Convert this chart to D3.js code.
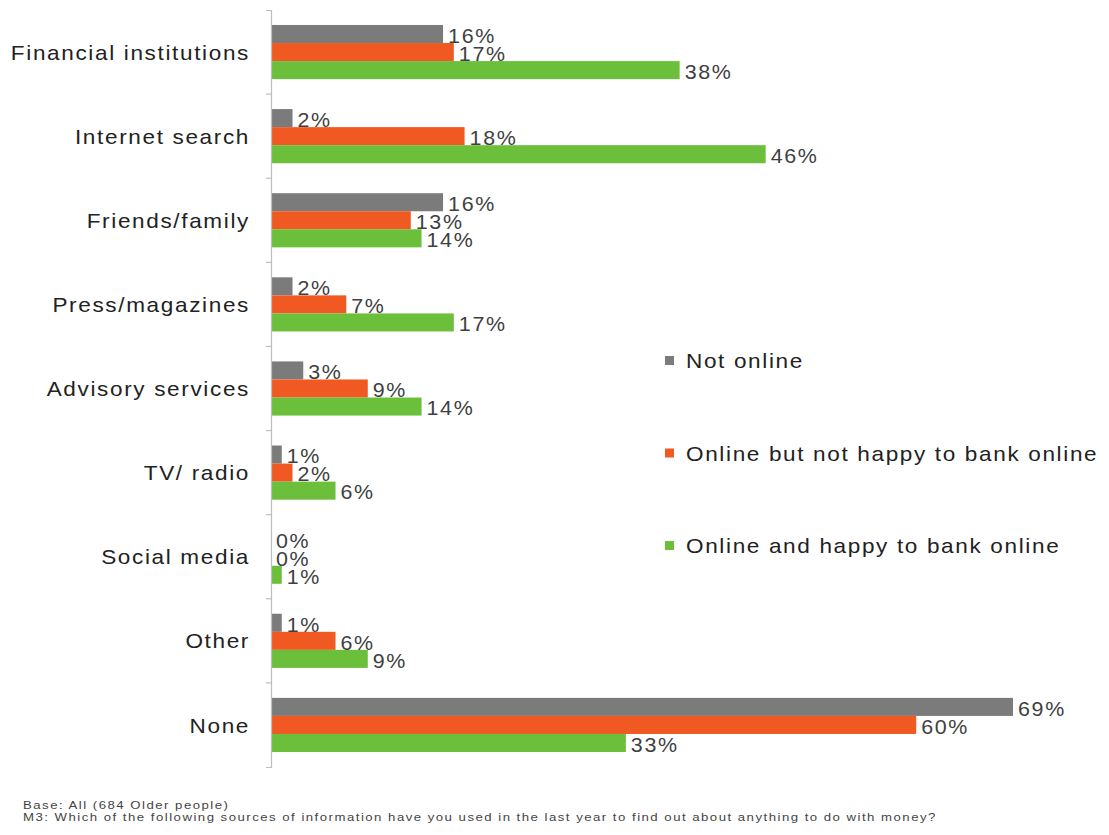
<!DOCTYPE html>
<html>
<head>
<meta charset="utf-8">
<script src="https://cdn.jsdelivr.net/npm/d3@7"></script>
<style>
  html, body { margin: 0; padding: 0; background: #fff; }
  svg { display: block; }
  text { font-family: "Liberation Sans", Arial, sans-serif; }
</style>
</head>
<body>
<svg id="chart" width="1109" height="835"></svg>
<script>
// Sources of information used in the last year, by online status
const categories = [
  "Financial institutions", "Internet search", "Friends/family",
  "Press/magazines", "Advisory services", "TV/ radio",
  "Social media", "Other", "None"
];
const seriesNames = [
  "Not online",
  "Online but not happy to bank online",
  "Online and happy to bank online"
];
const notOnline      = [16, 2, 16, 2, 3, 1, 0, 1, 69];
const onlineNotHappy = [17, 18, 13, 7, 9, 2, 0, 6, 60];
const onlineHappy    = [38, 46, 14, 17, 14, 6, 1, 9, 33];
const seriesValues = [notOnline, onlineNotHappy, onlineHappy];
const seriesColors = ["#7b7b7b", "#f05a22", "#6cbf3b"];
const footnotes = [
  "Base: All (684 Older people)",
  "M3: Which of the following sources of information  have you used in the last year to find out about anything to do with money?"
];

const svg = d3.select("#chart");
const axisX = 271;
const plotTop = 10, plotBottom = 767;
const sx = 1.1; // horizontal text stretch

const x = d3.scaleLinear().domain([0, 69]).range([axisX, axisX + 742]);
const y = d3.scaleBand().domain(categories).range([plotTop, plotBottom]).padding(0);
const inner = d3.scaleBand().domain(seriesNames).range([0, y.step()])
  .paddingInner(0).paddingOuter(0.83);

// bars
const rows = categories.map((c, i) => ({ c, vals: seriesNames.map((s, k) => ({ s, v: seriesValues[k][i], k })) }));
const groups = svg.append("g").selectAll("g").data(rows).join("g")
  .attr("transform", d => `translate(0,${y(d.c)})`);

groups.selectAll("rect").data(d => d.vals).join("rect")
  .attr("x", x(0))
  .attr("y", d => inner(d.s))
  .attr("width", d => x(d.v) - x(0))
  .attr("height", inner.bandwidth())
  .attr("fill", d => seriesColors[d.k]);

groups.selectAll("text").data(d => d.vals).join("text")
  .attr("transform", d => `translate(${x(d.v) + 5},${inner(d.s) + inner.bandwidth() / 2 + 2}) scale(${sx},1)`)
  .attr("dy", "0.35em")
  .attr("font-size", 19.5)
  .attr("letter-spacing", "1.5px")
  .attr("fill", "#3f3f3f")
  .text(d => d.v + "%");

// vertical axis with category labels
const axis = svg.append("g")
  .attr("transform", `translate(${axisX},0)`)
  .call(d3.axisLeft(y).tickSizeInner(0).tickSizeOuter(5).tickPadding(20));
axis.select(".domain").attr("stroke", "#bdbdbd").attr("stroke-width", 1.2);
axis.selectAll(".tick text")
  .attr("x", null)
  .attr("transform", `translate(-21,1) scale(${sx},1)`)
  .attr("font-size", 20.5)
  .attr("letter-spacing", "1.5px")
  .attr("fill", "#222")
  .attr("font-family", "'Liberation Sans', Arial, sans-serif");

// tick marks between category bands
axis.selectAll("line.sep").data(categories.slice(1)).join("line")
  .attr("class", "sep")
  .attr("x1", -5).attr("x2", 0)
  .attr("y1", d => y(d)).attr("y2", d => y(d))
  .attr("stroke", "#bdbdbd").attr("stroke-width", 1.2);

// legend
const legend = svg.append("g").attr("transform", "translate(665,361)");
const lg = legend.selectAll("g").data(seriesNames).join("g")
  .attr("transform", (d, i) => `translate(0,${i * 92.5})`);
lg.append("rect").attr("x", 0).attr("y", -5).attr("width", 9).attr("height", 9)
  .attr("fill", (d, i) => seriesColors[i]);
lg.append("text")
  .attr("transform", `translate(21,0) scale(${sx},1)`)
  .attr("dy", "0.35em")
  .attr("font-size", 20.5).attr("letter-spacing", "1.5px").attr("fill", "#222")
  .text(d => d);

// footnotes
svg.append("g").selectAll("text").data(footnotes).join("text")
  .attr("transform", (d, i) => `translate(23,${809 + i * 12}) scale(1.2,1)`)
  .attr("font-size", 11)
  .attr("letter-spacing", "1.24px")
  .attr("fill", "#444")
  .text(d => d);
</script>
</body>
</html>
